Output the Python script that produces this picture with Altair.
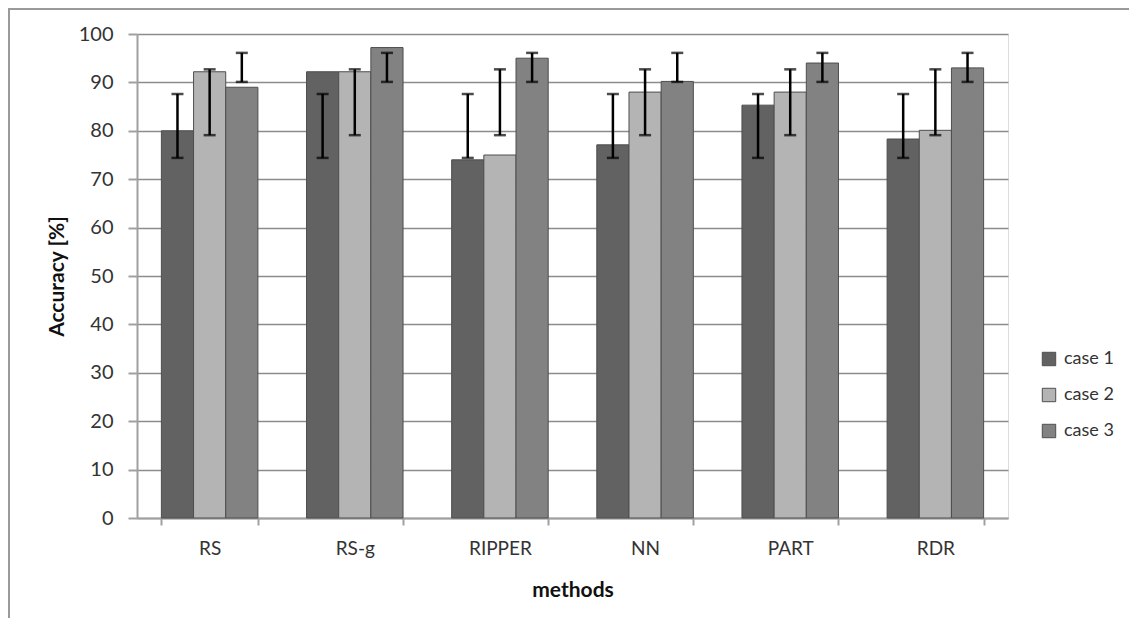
import altair as alt
import pandas as pd

methods = ["RS", "RS-g", "RIPPER", "NN", "PART", "RDR"]
cases = ["case 1", "case 2", "case 3"]
case1 = [80.0, 92.2, 74.0, 77.1, 85.3, 78.3]
case2 = [92.2, 92.2, 75.0, 88.0, 88.0, 80.1]
case3 = [89.0, 97.2, 95.0, 90.2, 94.0, 93.0]
err_low = [74.4, 79.1, 90.1]
err_high = [87.6, 92.7, 96.1]
colors = ["#626262", "#b4b4b4", "#828282"]

rows = []
for i, m in enumerate(methods):
    for j, vals in enumerate([case1, case2, case3]):
        rows.append({"method": m, "case": cases[j], "acc": vals[i],
                     "lo": err_low[j], "hi": err_high[j]})
df = pd.DataFrame(rows)

FONT = "Lato"

x_enc = alt.X(
    "method:N", sort=methods, title="methods",
    scale=alt.Scale(paddingInner=0.335, paddingOuter=0.168),
    axis=alt.Axis(labelAngle=0, tickBand="extent", tickSize=7, tickColor="#a0a0a0",
                  tickWidth=2, domainColor="#a0a0a0", domainWidth=2, labelFontSize=19,
                  labelFont=FONT, labelColor="#333333", labelPadding=14,
                  titleFont=FONT, titleFontSize=21, titleFontWeight="bold",
                  titleColor="#111111", titleY=72, titleBaseline="middle", grid=False),
)
xoff = alt.XOffset("case:N", sort=cases)

y_axis = alt.Axis(values=list(range(0, 101, 10)), tickSize=9, tickColor="#a0a0a0",
                  tickWidth=2, domainColor="#a0a0a0", domainWidth=2,
                  gridColor="#8c8c8c", gridWidth=1.5, labelFontSize=20,
                  labelFont=FONT, labelColor="#333333", labelPadding=15,
                  titleFont=FONT, titleFontSize=21, titleFontWeight="bold",
                  titleColor="#111111", titleAngle=270, titleX=-80, titleY=242,
                  titleAlign="center", titleBaseline="middle")

base = alt.Chart(df)

bars = base.mark_bar(stroke="#4e4e4e", strokeWidth=1).encode(
    x=x_enc,
    xOffset=xoff,
    y=alt.Y("acc:Q", title="Accuracy [%]", scale=alt.Scale(domain=[0, 100], nice=False),
            axis=y_axis),
    color=alt.Color("case:N", sort=cases,
                    scale=alt.Scale(domain=cases, range=colors),
                    legend=alt.Legend(title=None, orient="none", legendX=903, legendY=316,
                                      symbolType="square", symbolSize=180,
                                      symbolStrokeColor="#4e4e4e", symbolStrokeWidth=1,
                                      labelFont=FONT, labelFontSize=18, labelColor="#333333",
                                      rowPadding=18, labelOffset=6)),
)

err = base.mark_rule(color="black", strokeWidth=2.5).encode(
    x=alt.X("method:N", sort=methods), xOffset=xoff, y="lo:Q", y2="hi:Q")
cap_lo = base.mark_tick(color="black", thickness=2.5, size=12).encode(
    x=alt.X("method:N", sort=methods), xOffset=xoff, y="lo:Q")
cap_hi = base.mark_tick(color="black", thickness=2.5, size=12).encode(
    x=alt.X("method:N", sort=methods), xOffset=xoff, y="hi:Q")

frame_df = pd.DataFrame({"k": [0]})
top_border = alt.Chart(frame_df).mark_rule(color="#9a9a9a", strokeWidth=2).encode(
    x=alt.value(-129), x2=alt.value(1000), y=alt.value(-25))
left_border = alt.Chart(frame_df).mark_rule(color="#9a9a9a", strokeWidth=2).encode(
    x=alt.value(-128), y=alt.value(-26), y2=alt.value(600))

chart = alt.layer(bars, err, cap_lo, cap_hi, top_border, left_border).properties(
    width=871, height=484,
    padding={"left": 129, "top": 26, "right": 121, "bottom": 100},
    autosize=alt.AutoSizeParams(type="none"),
).configure_view(fill="#e6e6e6", stroke=None).configure(background="white")

chart.save("out.html", embed_options={"renderer": "svg", "actions": False})
